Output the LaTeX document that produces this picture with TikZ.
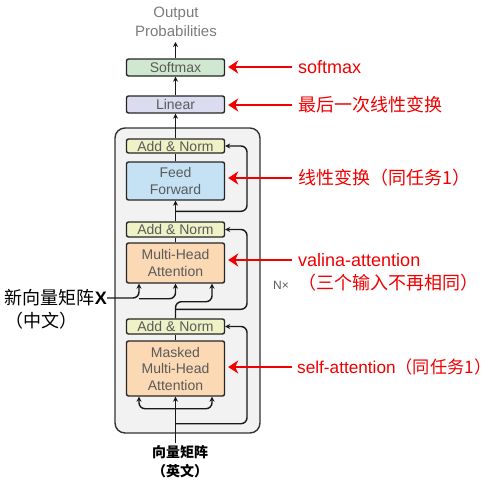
\documentclass[tikz,border=0pt]{standalone}
\usepackage{fontspec}
\setmainfont{Liberation Sans}
\newfontfamily\cjk{Noto Sans CJK SC}
\usetikzlibrary{arrows.meta,calc}
\definecolor{txtgray}{HTML}{5A5A5A}
\definecolor{softgreen}{HTML}{CFE8CF}
\definecolor{linpurple}{HTML}{DCDCF0}
\definecolor{normyellow}{HTML}{EEF2C6}
\definecolor{ffblue}{HTML}{C5E2F4}
\definecolor{attorange}{HTML}{FBD9B4}
\definecolor{outerfill}{HTML}{F2F2F2}
\definecolor{redc}{HTML}{F00000}
\begin{document}
\begin{tikzpicture}[x=1pt,y=-1pt,
  blk/.style={draw=black!85, line width=1.4pt, rounded corners=2pt, inner sep=0pt,
    minimum width=98pt, text=txtgray, font=\fontsize{14}{16.5}\selectfont, align=center},
  conn/.style={line width=1.4pt, draw=black!90},
  arr/.style={conn, -{Stealth[length=5pt,width=5pt]}},
  redarr/.style={draw=redc, line width=2.4pt, -{Stealth[length=10pt,width=13pt,inset=3pt]}, shorten >=3pt},
  redtxt/.style={text=redc, anchor=west, inner sep=0pt, font=\fontsize{18}{22}\selectfont},
  blktxt/.style={text=black, inner sep=0pt}
]
\useasboundingbox (0,0) rectangle (499,480);

% outer box
\node (outer) [draw=black!80, line width=1.4pt, rounded corners=10pt, fill=outerfill,
  minimum width=145pt, minimum height=305pt, inner sep=0pt] at (187.5,280.5) {};

% boxes
\node (soft) [blk, fill=softgreen, minimum height=17pt] at (175.5,67.5) {Softmax};
\node (lin)  [blk, fill=linpurple, minimum height=17pt] at (175.5,104.5) {Linear};
\node (an3)  [blk, fill=normyellow, minimum height=14pt] at (175.5,146) {Add \& Norm};
\node (ff)   [blk, fill=ffblue, minimum height=38pt] at (175.5,181) {Feed\\Forward};
\node (an2)  [blk, fill=normyellow, minimum height=15pt] at (175.5,229.5) {Add \& Norm};
\node (mha)  [blk, fill=attorange, minimum height=40pt] at (175.5,263) {Multi-Head\\Attention};
\node (an1)  [blk, fill=normyellow, minimum height=15pt] at (175.5,326.5) {Add \& Norm};
\node (mmha) [blk, fill=attorange, minimum height=55pt] at (175.5,368.5) {Masked\\Multi-Head\\Attention};

% texts
\node (outp) [text=txtgray!80, inner sep=0pt, align=center, font=\fontsize{15}{19}\selectfont] at (176,22) {Output\\Probabilities};
\coordinate (optip) at (175.5,42);
\node (nx) [text=txtgray, inner sep=0pt, font=\fontsize{12}{14}\selectfont] at (281,285) {N×};

\node (xlab) [blktxt, anchor=east, font=\fontsize{18}{22}\selectfont] at (107,298) {{\cjk 新向量矩阵}\textbf{X}};
\node (xlab2) [blktxt, anchor=west, font=\fontsize{18}{22}\selectfont] at (5,321) {\cjk （中文）};
\node (inlab) [blktxt, align=center, font=\fontsize{14}{19}\selectfont] at (180,462) {\cjk\bfseries 向量矩阵\\\cjk\bfseries （英文）};
\coordinate (instart) at (175.5,443);

% connectors
\draw[arr] (soft.north) -- (optip);
\draw[arr] (lin.north) -- (soft.south);
\draw[arr] (an3.north) -- (lin.south);
\draw[conn] (ff.north) -- (an3.south);
\draw[arr] (an2.north) -- (ff.south);
\draw[arr, rounded corners=6pt] ($(an2.north)+(0,-10)$) -- ($(an2.north)+(71.5,-10)$) |- (an3.east);
\draw[conn] (mha.north) -- (an2.south);
\draw[arr, rounded corners=6pt] ($(an1.north)+(0,-9)$) -- ($(an1.north)+(71.5,-9)$) |- (an2.east);
\draw[arr, rounded corners=6pt] (an1.north) |- ($(mha.south)+(36.5,18)$) -- ($(mha.south)+(36.5,0)$);
\draw[arr, rounded corners=6pt] (xlab.east) -| ($(mha.south)+(-36.5,0)$);
\draw[arr, rounded corners=6pt] ($(mha.south)+(-36.5,15)$) -| (mha.south);
\draw[conn] (mmha.north) -- (an1.south);
\draw[arr] (instart) -- (mmha.south);
\draw[arr, rounded corners=6pt] ($(mmha.south)+(0,12)$) -| ($(mmha.south)+(-36.5,0)$);
\draw[arr, rounded corners=6pt] ($(mmha.south)+(0,12)$) -| ($(mmha.south)+(36.5,0)$);
\draw[arr, rounded corners=6pt] ($(mmha.south)+(0,27)$) -- ($(mmha.south)+(71.5,27)$) |- (an1.east);

% red annotations
\node (r1) [redtxt] at (298,67) {softmax};
\node (r2) [redtxt] at (298,105) {\cjk 最后一次线性变换};
\node (r3) [redtxt] at (298,178) {\cjk 线性变换（同任务1）};
\node (r4) [redtxt] at (298,260) {valina-attention};
\node (r4b) [redtxt] at (298,283) {\cjk （三个输入不再相同）};
\node (r5) [redtxt, font=\fontsize{17.2}{21}\selectfont] at (297,367) {self-attention{\cjk （同任务1）}};

\draw[redarr] ($(r1.west)+(-6,0)$) -- (r1.west -| soft.east);
\draw[redarr] ($(r2.west)+(-6,0)$) -- (r2.west -| lin.east);
\draw[redarr] ($(r3.west)+(-6,0)$) -- (r3.west -| ff.east);
\draw[redarr] ($(r4.west)+(-6,0)$) -- (r4.west -| mha.east);
\draw[redarr] ($(r5.west)+(-5,0)$) -- (r5.west -| mmha.east);
\end{tikzpicture}
\end{document}
